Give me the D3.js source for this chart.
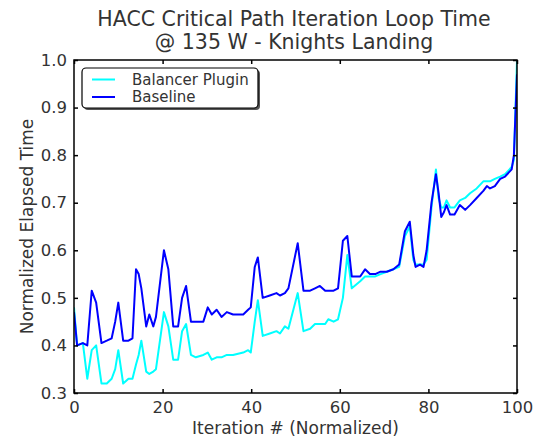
<!DOCTYPE html>
<html>
<head>
<meta charset="utf-8">
<script src="https://cdn.jsdelivr.net/npm/d3@7"></script>
<style>
  html, body { margin: 0; padding: 0; background: #fff; }
  text { font-family: "DejaVu Sans", sans-serif; fill: #333; }
</style>
</head>
<body>
<svg id="chart" width="533" height="440"></svg>
<script>
const titleLines = ["HACC Critical Path Iteration Loop Time", "@ 135 W - Knights Landing"];
const xLabel = "Iteration # (Normalized)";
const yLabel = "Normalized Elapsed Time";
const seriesNames = ["Balancer Plugin", "Baseline"];
const xTicks = [0, 20, 40, 60, 80, 100];
const yTicks = [0.3, 0.4, 0.5, 0.6, 0.7, 0.8, 0.9, 1.0];

const iterations = [0, 0.7, 2, 3, 4, 5, 6.2, 7.4, 8.5, 9.3, 10, 11.1, 12.3, 13.2, 14, 14.6, 15.2, 16.3, 17, 17.9, 18.5,
  20.3, 21.3, 22.4, 23.5, 24.4, 25.3, 26.4, 27.5, 29.2, 30.2, 31.1, 32.2, 33.3, 34.5, 35.9, 38.2, 39.3, 39.9,
  40.8, 41.5, 42.6, 44.2, 45.7, 46.5, 47.6, 48.4, 50.5, 51.8, 53.3, 54.4, 55.5, 56.7, 57.4, 58.6, 59.6,
  60.7, 61.7, 62.7, 64.6, 65.7, 66.8, 68, 69.2, 70.6, 72.1, 73.4, 74.7, 75.8, 76.6, 77.1, 78.1, 78.9, 79.6,
  80.7, 81.7, 82.3, 82.9, 83.5, 84.1, 84.9, 85.9, 87.1, 88.3, 89.4, 90.9, 92.4, 93.2, 93.9, 95, 96.2, 97.3,
  98.8, 99.3, 100];

const baseline = [0.47, 0.40, 0.405, 0.40, 0.515, 0.49, 0.405, 0.41, 0.415, 0.45, 0.49, 0.41, 0.41, 0.415, 0.56, 0.55, 0.52, 0.44, 0.465, 0.44, 0.46,
  0.60, 0.56, 0.44, 0.44, 0.50, 0.525, 0.45, 0.45, 0.45, 0.48, 0.465, 0.475, 0.46, 0.47, 0.465, 0.465, 0.475, 0.48,
  0.565, 0.585, 0.50, 0.505, 0.51, 0.505, 0.51, 0.52, 0.615, 0.515, 0.515, 0.52, 0.525, 0.515, 0.515, 0.515, 0.52,
  0.62, 0.63, 0.545, 0.545, 0.56, 0.55, 0.55, 0.555, 0.555, 0.56, 0.57, 0.64, 0.66, 0.59, 0.565, 0.57, 0.565, 0.60,
  0.70, 0.76, 0.72, 0.67, 0.68, 0.695, 0.675, 0.675, 0.695, 0.685, 0.695, 0.71, 0.725, 0.735, 0.73, 0.735, 0.75, 0.755,
  0.77, 0.80, 0.97];

const plugin = [0.48, 0.40, 0.405, 0.33, 0.39, 0.40, 0.32, 0.32, 0.33, 0.35, 0.39, 0.32, 0.33, 0.33, 0.36, 0.38, 0.41, 0.345, 0.34, 0.345, 0.35,
  0.47, 0.44, 0.37, 0.37, 0.43, 0.445, 0.38, 0.375, 0.38, 0.385, 0.37, 0.375, 0.375, 0.38, 0.38, 0.385, 0.39, 0.385,
  0.45, 0.495, 0.42, 0.425, 0.43, 0.425, 0.44, 0.435, 0.51, 0.43, 0.435, 0.445, 0.445, 0.445, 0.455, 0.45, 0.455,
  0.50, 0.59, 0.52, 0.535, 0.545, 0.545, 0.545, 0.55, 0.555, 0.56, 0.565, 0.63, 0.65, 0.58, 0.57, 0.57, 0.57, 0.58,
  0.69, 0.77, 0.71, 0.69, 0.69, 0.705, 0.69, 0.69, 0.705, 0.71, 0.72, 0.73, 0.745, 0.745, 0.745, 0.75, 0.755, 0.76,
  0.775, 0.79, 1.0];

const colors = ["#00ffff", "#0000ff"];

const svg = d3.select("#chart");
const L = 74, R = 517, T = 60, B = 393;
const x = d3.scaleLinear().domain([0, 100]).range([L, R]);
const y = d3.scaleLinear().domain([0.3, 1.0]).range([B, T]);

// Title
svg.append("text").attr("x", 294).attr("y", 26).attr("text-anchor", "middle")
  .style("font-size", "20.5px").text(titleLines[0]);
svg.append("text").attr("x", 294).attr("y", 49).attr("text-anchor", "middle")
  .style("font-size", "20.5px").text(titleLines[1]);

// Lines
const line = d3.line().x((d, i) => x(iterations[i])).y(d => y(d));
svg.append("clipPath").attr("id", "clip").append("rect")
  .attr("x", L).attr("y", T).attr("width", R - L).attr("height", B - T);
[plugin, baseline].forEach((s, k) => {
  svg.append("path").datum(s).attr("d", line).attr("fill", "none")
    .attr("stroke", colors[k]).attr("stroke-width", 2).attr("stroke-linejoin", "round")
    .attr("clip-path", "url(#clip)");
});

// Axes (inward ticks on all sides)
const tickLen = 4;
const axB = svg.append("g").attr("transform", `translate(0,${B})`)
  .call(d3.axisBottom(x).tickValues(xTicks).tickSize(-tickLen).tickPadding(8).tickFormat(d3.format("d")));
const axT = svg.append("g").attr("transform", `translate(0,${T})`)
  .call(d3.axisTop(x).tickValues(xTicks).tickSize(-tickLen).tickFormat(""));
const axL = svg.append("g").attr("transform", `translate(${L},0)`)
  .call(d3.axisLeft(y).tickValues(yTicks).tickSize(-tickLen).tickPadding(7).tickFormat(d3.format(".1f")));
const axR = svg.append("g").attr("transform", `translate(${R},0)`)
  .call(d3.axisRight(y).tickValues(yTicks).tickSize(-tickLen).tickFormat(""));
[axB, axT, axL, axR].forEach(a => {
  a.select(".domain").remove();
  a.selectAll(".tick line").attr("stroke", "#000").attr("stroke-width", 1.5);
  a.selectAll(".tick text").style("font-size", "16.5px").attr("fill", "#333").style("font-family", "DejaVu Sans, sans-serif");
});

// Frame
svg.append("rect").attr("x", L).attr("y", T).attr("width", R - L).attr("height", B - T)
  .attr("fill", "none").attr("stroke", "#000").attr("stroke-width", 1.5);

// Axis labels
svg.append("text").attr("x", (L + R) / 2).attr("y", 434).attr("text-anchor", "middle")
  .style("font-size", "17px").text(xLabel);
svg.append("text").attr("transform", `translate(27,${(T + B) / 2}) rotate(-90)`)
  .attr("text-anchor", "middle").attr("dy", "0.35em").style("font-size", "17px").text(yLabel);

// Legend
const lg = svg.append("g");
lg.append("rect").attr("x", 84).attr("y", 70).attr("width", 176).attr("height", 40).attr("rx", 4)
  .attr("fill", "#555");
lg.append("rect").attr("x", 82).attr("y", 68).attr("width", 176).attr("height", 40).attr("rx", 4)
  .attr("fill", "#fff").attr("stroke", "#000").attr("stroke-width", 1.2);
seriesNames.forEach((n, i) => {
  const yy = 79.5 + i * 17.5;
  lg.append("line").attr("x1", 92).attr("x2", 115).attr("y1", yy).attr("y2", yy)
    .attr("stroke", colors[i]).attr("stroke-width", 2);
  lg.append("text").attr("x", 132).attr("y", yy).attr("dy", "0.35em")
    .style("font-size", "15px").text(n);
});
</script>
</body>
</html>
